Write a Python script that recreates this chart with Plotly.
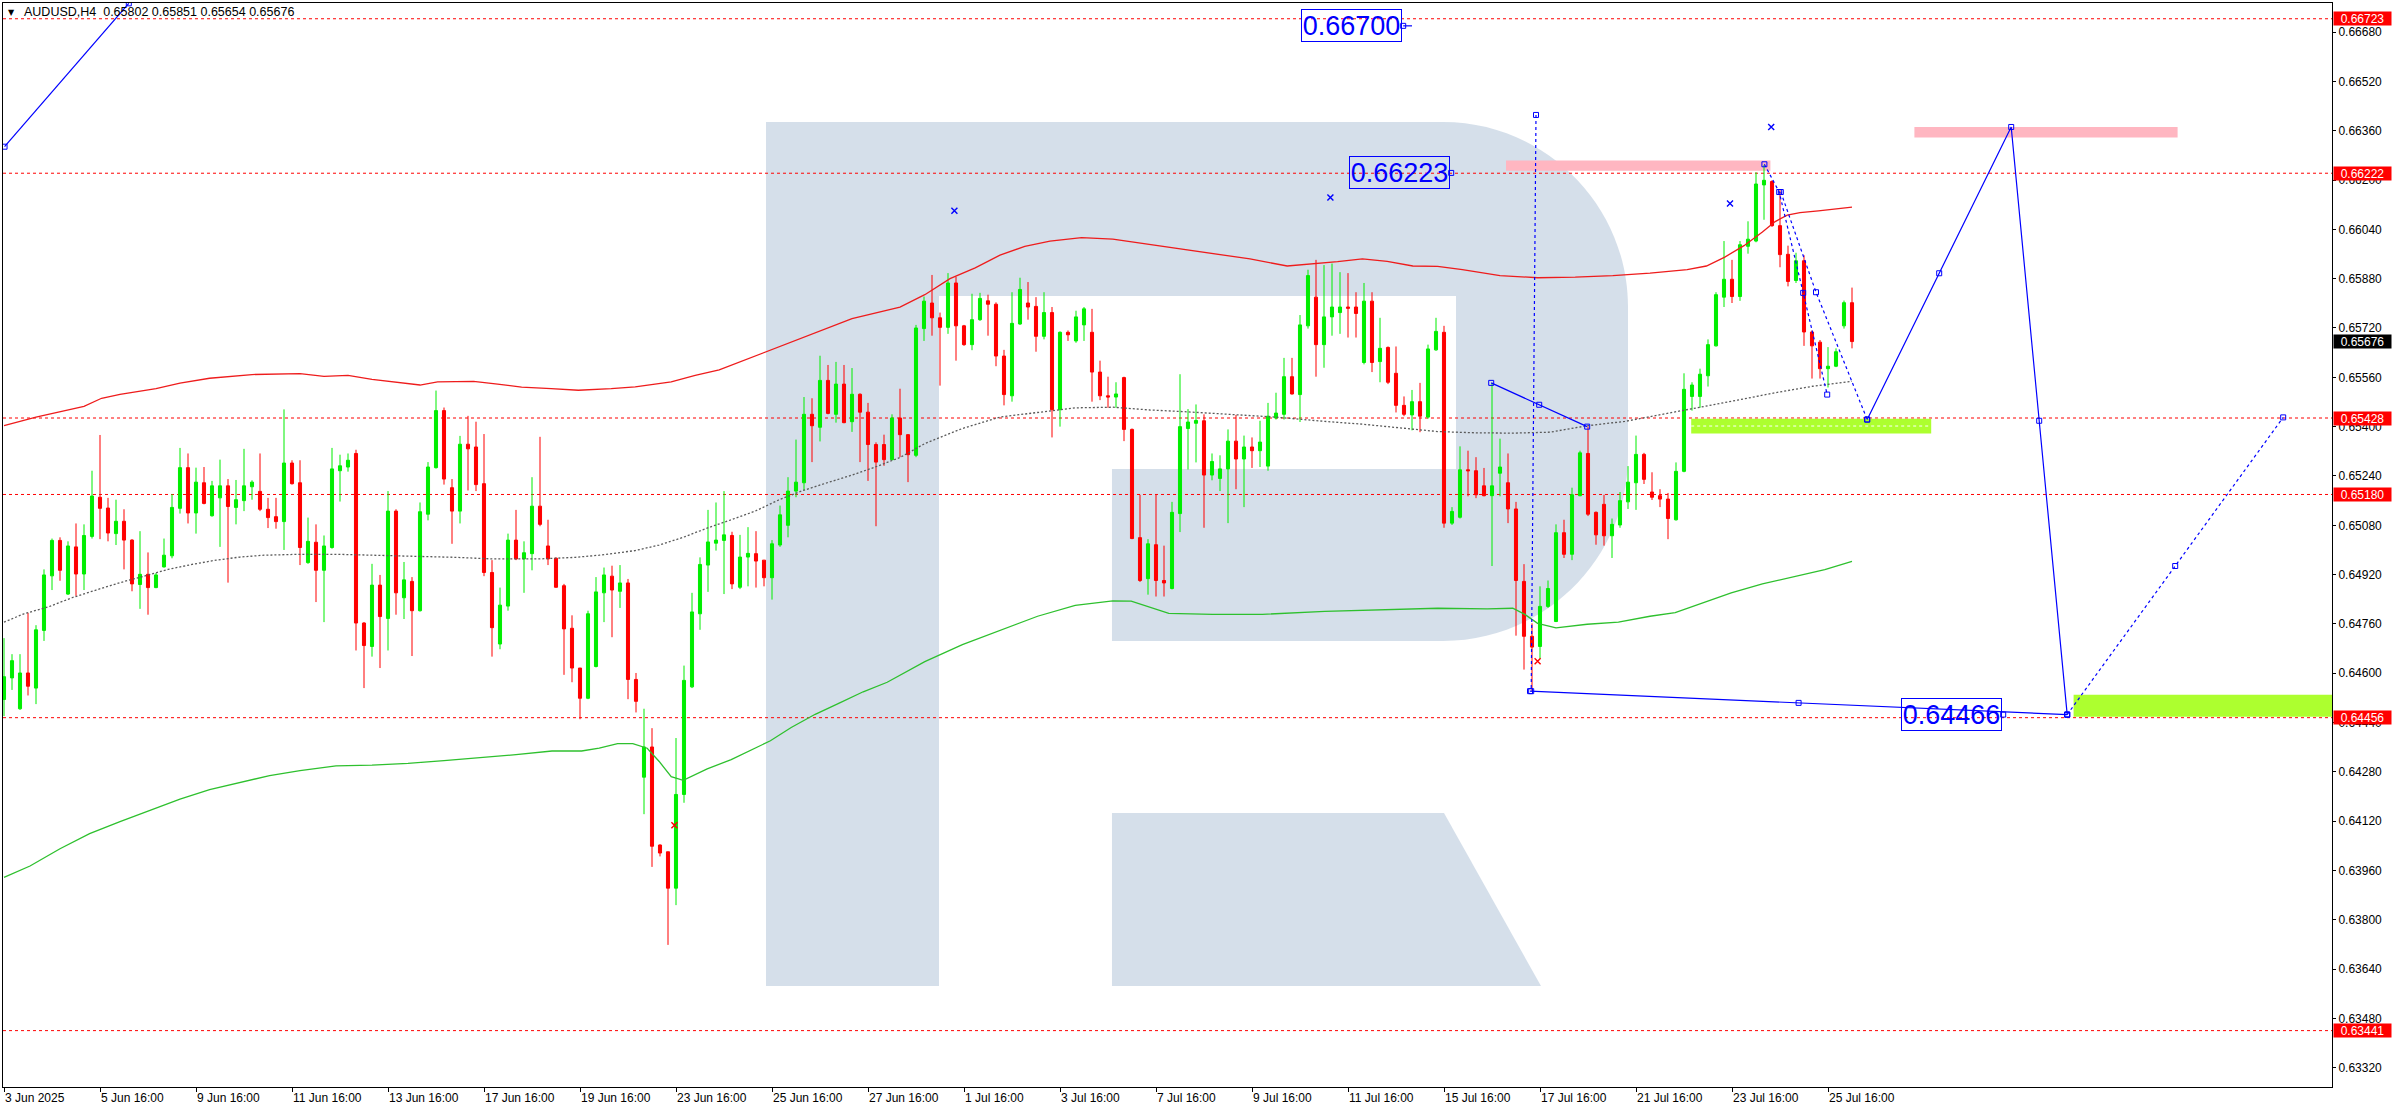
import plotly.graph_objects as go

# ---------------- data ----------------
bar_index = list(range(232))

opens = [0.64515,0.64585,0.64485,0.64601,0.64552,0.64739,0.64916,0.65031,0.64857,0.65010,
0.64922,0.65044,0.65171,0.65136,0.65053,0.65093,0.65032,0.64888,0.64921,0.64878,
0.64945,0.64981,0.65135,0.65267,0.65120,0.65218,0.65111,0.65169,0.65208,0.65138,
0.65160,0.65205,0.65190,0.65132,0.65108,0.65092,0.65282,0.65218,0.64959,0.65025,
0.64934,0.65008,0.65257,0.65269,0.65313,0.64763,0.64687,0.64886,0.64778,0.65126,
0.64845,0.64898,0.64803,0.65116,0.65267,0.65452,0.65202,0.65126,0.65343,0.65334,
0.65215,0.64927,0.64695,0.64818,0.65032,0.64971,0.64988,0.65142,0.65013,0.64973,
0.64884,0.64746,0.64617,0.64519,0.64622,0.64861,0.64915,0.64866,0.64893,0.64580,
0.64263,0.64361,0.64043,0.64021,0.63903,0.64207,0.64556,0.64793,0.64951,0.65022,
0.65031,0.65047,0.64879,0.64977,0.64988,0.64967,0.64910,0.65016,0.65080,0.65191,
0.65218,0.65440,0.65398,0.65550,0.65440,0.65538,0.65416,0.65505,0.65447,0.65342,
0.65342,0.65293,0.65428,0.65374,0.65307,0.65718,0.65801,0.65753,0.65722,0.65866,
0.65727,0.65666,0.65747,0.65808,0.65797,0.65629,0.65500,0.65733,0.65801,0.65790,
0.65693,0.65770,0.65455,0.65706,0.65678,0.65730,0.65706,0.65577,0.65500,0.65496,
0.65559,0.65391,0.65040,0.64907,0.65017,0.64901,0.64875,0.65118,0.65394,0.65411,
0.65419,0.65243,0.65232,0.65263,0.65353,0.65295,0.65334,0.65322,0.65272,0.65428,
0.65440,0.65562,0.65504,0.65727,0.65820,0.65666,0.65756,0.65770,0.65788,0.65788,
0.65608,0.65807,0.65611,0.65657,0.65573,0.65469,0.65438,0.65481,0.65431,0.65649,
0.65706,0.65087,0.65106,0.65260,0.65257,0.65208,0.65176,0.65249,0.65218,0.65133,
0.64898,0.64720,0.64687,0.64817,0.64768,0.65056,0.64986,0.65176,0.65313,0.65122,
0.65148,0.65046,0.65081,0.65156,0.65218,0.65310,0.65188,0.65176,0.65165,0.65098,
0.65255,0.65498,0.65498,0.65565,0.65662,0.65820,0.65878,0.65822,0.65985,0.66002,
0.66184,0.66195,0.66052,0.65959,0.65874,0.65938,0.65707,0.65674,0.65588,0.65596,
0.65727,0.65802]

highs = [0.64714,0.64662,0.64662,0.64796,0.64756,0.64937,0.65037,0.65041,0.65028,0.65086,
0.65083,0.65257,0.65373,0.65169,0.65163,0.65132,0.65035,0.65061,0.64992,0.64925,
0.65037,0.65181,0.65331,0.65313,0.65267,0.65269,0.65224,0.65293,0.65230,0.65227,
0.65328,0.65226,0.65313,0.65169,0.65169,0.65456,0.65291,0.65291,0.65105,0.65083,
0.65047,0.65331,0.65309,0.65313,0.65325,0.64766,0.64955,0.64919,0.65191,0.65132,
0.64961,0.64912,0.65154,0.65285,0.65517,0.65462,0.65230,0.65370,0.65435,0.65416,
0.65376,0.64967,0.64878,0.65053,0.65130,0.65028,0.65236,0.65367,0.65098,0.64976,
0.64890,0.64788,0.64617,0.64803,0.64912,0.64943,0.64949,0.64951,0.64906,0.64601,
0.64485,0.64422,0.64045,0.64021,0.64390,0.64625,0.64861,0.64976,0.65130,0.65154,
0.65191,0.65059,0.65049,0.65074,0.65061,0.64967,0.65032,0.65144,0.65236,0.65358,
0.65496,0.65492,0.65630,0.65600,0.65610,0.65600,0.65590,0.65508,0.65477,0.65349,
0.65374,0.65440,0.65523,0.65376,0.65730,0.65822,0.65892,0.65770,0.65898,0.65886,
0.65730,0.65831,0.65834,0.65828,0.65803,0.65649,0.65836,0.65883,0.65869,0.65820,
0.65836,0.65788,0.65709,0.65712,0.65776,0.65788,0.65782,0.65614,0.65562,0.65544,
0.65562,0.65394,0.65179,0.65035,0.65179,0.65014,0.65156,0.65570,0.65457,0.65472,
0.65440,0.65313,0.65307,0.65391,0.65438,0.65371,0.65365,0.65419,0.65477,0.65510,
0.65623,0.65623,0.65762,0.65909,0.65941,0.65924,0.65929,0.65901,0.65898,0.65836,
0.65866,0.65836,0.65753,0.65660,0.65660,0.65498,0.65519,0.65542,0.65666,0.65753,
0.65727,0.65139,0.65336,0.65322,0.65301,0.65266,0.65542,0.65361,0.65313,0.65156,
0.64954,0.64762,0.64882,0.64901,0.65083,0.65098,0.65202,0.65322,0.65400,0.65125,
0.65179,0.65102,0.65188,0.65272,0.65371,0.65315,0.65252,0.65197,0.65185,0.65284,
0.65573,0.65544,0.65588,0.65683,0.65836,0.66002,0.65941,0.66002,0.66066,0.66225,
0.66249,0.66199,0.66167,0.65987,0.65964,0.65956,0.65712,0.65681,0.65658,0.65654,
0.65809,0.65851]

lows = [0.64461,0.64546,0.64481,0.64528,0.64500,0.64705,0.64870,0.64900,0.64854,0.64851,
0.64870,0.65037,0.65035,0.65028,0.65016,0.64937,0.64866,0.64809,0.64790,0.64876,
0.64943,0.64973,0.65118,0.65086,0.65053,0.65148,0.65108,0.65010,0.64894,0.65083,
0.65126,0.65163,0.65126,0.65071,0.65069,0.65000,0.65212,0.64951,0.64955,0.64831,
0.64766,0.65004,0.65157,0.65254,0.64674,0.64552,0.64654,0.64617,0.64674,0.64790,
0.64776,0.64656,0.64800,0.65096,0.65264,0.65212,0.65020,0.65086,0.65193,0.65191,
0.64915,0.64654,0.64678,0.64803,0.64967,0.64861,0.64934,0.65077,0.64951,0.64878,
0.64595,0.64571,0.64451,0.64516,0.64619,0.64766,0.64717,0.64812,0.64516,0.64473,
0.64143,0.63972,0.64006,0.63719,0.63848,0.64180,0.64552,0.64741,0.64864,0.64998,
0.64857,0.64873,0.64873,0.64882,0.64878,0.64882,0.64839,0.65010,0.65041,0.65171,
0.65193,0.65285,0.65352,0.65440,0.65413,0.65411,0.65383,0.65285,0.65224,0.65077,
0.65273,0.65291,0.65301,0.65220,0.65301,0.65678,0.65695,0.65533,0.65701,0.65614,
0.65662,0.65648,0.65743,0.65695,0.65596,0.65469,0.65481,0.65730,0.65747,0.65643,
0.65683,0.65365,0.65400,0.65678,0.65672,0.65678,0.65481,0.65486,0.65461,0.65461,
0.65353,0.65035,0.64896,0.64855,0.64849,0.64849,0.64872,0.65058,0.65261,0.65284,
0.65072,0.65226,0.65191,0.65087,0.65197,0.65139,0.65266,0.65269,0.65257,0.65423,
0.65423,0.65504,0.65415,0.65718,0.65562,0.65591,0.65695,0.65701,0.65689,0.65689,
0.65602,0.65577,0.65544,0.65538,0.65446,0.65434,0.65388,0.65382,0.65426,0.65646,
0.65072,0.65081,0.65102,0.65174,0.65168,0.65174,0.64948,0.65174,0.65087,0.64722,
0.64612,0.64542,0.64647,0.64812,0.64766,0.64974,0.64967,0.65174,0.65110,0.65017,
0.65014,0.64974,0.65072,0.65133,0.65130,0.65214,0.65162,0.65139,0.65035,0.65095,
0.65252,0.65452,0.65461,0.65530,0.65660,0.65788,0.65801,0.65808,0.65961,0.65998,
0.66071,0.66048,0.65917,0.65855,0.65866,0.65662,0.65556,0.65556,0.65527,0.65593,
0.65718,0.65654]

closes = [0.64589,0.64641,0.64601,0.64558,0.64741,0.64919,0.65031,0.64934,0.65013,0.64922,
0.65047,0.65175,0.65135,0.65055,0.65093,0.65032,0.64890,0.64921,0.64878,0.64919,
0.64983,0.65138,0.65267,0.65120,0.65220,0.65151,0.65208,0.65208,0.65141,0.65163,
0.65208,0.65220,0.65132,0.65105,0.65092,0.65282,0.65215,0.65008,0.65028,0.64934,
0.65013,0.65263,0.65273,0.65291,0.64763,0.64690,0.64886,0.64784,0.65126,0.64861,
0.64903,0.64803,0.65124,0.65269,0.65452,0.65230,0.65126,0.65343,0.65328,0.65212,
0.64927,0.64748,0.64821,0.65032,0.64971,0.64991,0.65142,0.65083,0.64971,0.64879,
0.64744,0.64617,0.64519,0.64793,0.64864,0.64919,0.64870,0.64893,0.64580,0.64509,
0.64361,0.64039,0.64017,0.63903,0.64207,0.64577,0.64799,0.64953,0.65026,0.65032,
0.65049,0.64890,0.64977,0.64989,0.64964,0.64910,0.65020,0.65114,0.65191,0.65220,
0.65440,0.65403,0.65550,0.65443,0.65538,0.65413,0.65505,0.65447,0.65342,0.65285,
0.65293,0.65428,0.65374,0.65309,0.65720,0.65807,0.65753,0.65722,0.65866,0.65727,
0.65666,0.65747,0.65816,0.65797,0.65629,0.65504,0.65735,0.65845,0.65788,0.65693,
0.65770,0.65455,0.65706,0.65698,0.65756,0.65782,0.65577,0.65500,0.65496,0.65506,
0.65391,0.65037,0.64901,0.65020,0.64901,0.64893,0.65122,0.65400,0.65415,0.65420,
0.65243,0.65287,0.65263,0.65353,0.65295,0.65334,0.65322,0.65350,0.65434,0.65444,
0.65562,0.65506,0.65730,0.65890,0.65666,0.65756,0.65788,0.65788,0.65784,0.65767,
0.65807,0.65608,0.65654,0.65544,0.65469,0.65440,0.65481,0.65434,0.65652,0.65709,
0.65087,0.65125,0.65260,0.65257,0.65179,0.65176,0.65208,0.65269,0.65133,0.64901,
0.64720,0.64685,0.64817,0.64875,0.65056,0.64986,0.65179,0.65315,0.65116,0.65049,
0.65046,0.65083,0.65160,0.65220,0.65310,0.65229,0.65171,0.65165,0.65102,0.65255,
0.65521,0.65535,0.65570,0.65666,0.65828,0.65878,0.65822,0.65990,0.66008,0.66187,
0.66199,0.66052,0.65958,0.65871,0.65938,0.65707,0.65662,0.65588,0.65596,0.65643,
0.65802,0.65676]

# upper (red) band
upper_bar = [0,4.0,10.0,12.2,14.5,19.0,22.0,25.7,31.0,37.0,40.0,43.0,46.0,49.0,52.0,54.2,58.7,61.7,64.7,68.4,
             71.8,75.9,78.9,83.4,86.4,89.4,99.0,106.0,112.0,115.1,118.25,121.4,124.5,127.6,130.75,134.7,138.6,
             141.7,146.4,151.1,155.75,160.4,163.6,166.7,169.8,172.9,176.1,179.2,182.3,187.0,191.7,196.4,201.1,
             205.75,210.4,212.8,215.1,217.5,219.8,221.4,222.9,224.5,226.8,229.2,231.0]
upper_val = [0.65403,0.65431,0.65466,0.65492,0.65505,0.65523,0.65541,0.65557,0.65569,0.65572,0.65563,0.65566,
             0.65553,0.65544,0.65535,0.65545,0.65547,0.65538,0.65528,0.65523,0.65518,0.65523,0.65529,0.65545,
             0.65566,0.65584,0.65680,0.65750,0.65788,0.65828,0.65880,0.65915,0.65956,0.65985,0.66002,0.66013,
             0.66008,0.65996,0.65979,0.65961,0.65944,0.65921,0.65927,0.65935,0.65944,0.65936,0.65921,0.65920,
             0.65909,0.65890,0.65883,0.65885,0.65890,0.65898,0.65909,0.65921,0.65950,0.65987,0.66031,0.66065,
             0.66086,0.66094,0.66100,0.66106,0.66112]

# middle (grey dotted) line
middle_bar = [0,2.5,5.5,8.5,11.5,14.5,17.5,20.5,23.5,26.5,29.5,32.5,37,41.5,46,52,56.5,61,67,71.4,74.4,78.9,
              81.9,84.9,87.9,90.9,93.9,96.9,99.9,102.9,105.9,108.9,112,115.1,119.8,124.5,129.2,133.9,138.6,
              143.25,147.9,152.6,158.9,165.1,169.8,174.5,179.2,183.9,188.6,193.25,197.9,202.6,207.3,212,216.7,
              221.4,226.1,231]
middle_val = [0.64766,0.64793,0.64815,0.64845,0.64870,0.64894,0.64915,0.64937,0.64953,0.64967,0.64977,0.64983,
              0.64986,0.64986,0.64983,0.64980,0.64976,0.64971,0.64971,0.64976,0.64983,0.64998,0.65016,0.65041,
              0.65071,0.65098,0.65126,0.65163,0.65193,0.65218,0.65242,0.65269,0.65300,0.65345,0.65394,0.65431,
              0.65446,0.65461,0.65463,0.65454,0.65448,0.65440,0.65431,0.65417,0.65408,0.65396,0.65384,0.65380,
              0.65379,0.65382,0.65403,0.65417,0.65440,0.65461,0.65486,0.65510,0.65531,0.65547]

# lower (green) band
lower_bar = [0,3.25,7,10.7,14.5,18.2,22,25.7,29.5,33.2,37,41.5,46,50.5,55,59.5,64,68.5,72.2,74.4,76.7,78.6,
             80.4,81.9,83.4,84.9,87.9,90.9,93.9,95.8,98.4,101.4,104.4,107.4,110.4,113.4,115.1,119.8,124.5,
             129.2,133.9,138.6,140.9,143.25,145.6,151.1,157.3,165.1,171.4,179.2,185.4,188.6,190.1,191.7,194,
             197.9,201.8,205.75,208.9,212,215.9,219.8,224.5,227.6,231]
lower_val = [0.63938,0.63975,0.64031,0.64080,0.64119,0.64155,0.64192,0.64223,0.64247,0.64268,0.64284,0.64300,
             0.64302,0.64308,0.64317,0.64326,0.64336,0.64348,0.64348,0.64357,0.64372,0.64372,0.64357,0.64314,
             0.64265,0.64253,0.64290,0.64320,0.64357,0.64381,0.64424,0.64467,0.64503,0.64540,0.64571,0.64613,
             0.64638,0.64693,0.64739,0.64785,0.64820,0.64835,0.64834,0.64814,0.64794,0.64791,0.64791,0.64801,
             0.64806,0.64811,0.64809,0.64811,0.64791,0.64762,0.64747,0.64759,0.64766,0.64785,0.64797,0.64826,
             0.64861,0.64890,0.64917,0.64936,0.64963]

# x-axis labels
tick_bars = [0,12,24,36,48,60,72,84,96,108,120,132,144,156,168,180,192,204,216,228]
tick_labels = ["3 Jun 2025","5 Jun 16:00","9 Jun 16:00","11 Jun 16:00","13 Jun 16:00","17 Jun 16:00",
               "19 Jun 16:00","23 Jun 16:00","25 Jun 16:00","27 Jun 16:00","1 Jul 16:00","3 Jul 16:00",
               "7 Jul 16:00","9 Jul 16:00","11 Jul 16:00","15 Jul 16:00","17 Jul 16:00","21 Jul 16:00",
               "23 Jul 16:00","25 Jul 16:00"]
price_ticks = [0.63320,0.63480,0.63640,0.63800,0.63960,0.64120,0.64280,0.64440,0.64600,0.64760,0.64920,
               0.65080,0.65240,0.65400,0.65560,0.65720,0.65880,0.66040,0.66200,0.66360,0.66520,0.66680]

# horizontal levels
level_prices = [0.66723, 0.66222, 0.65428, 0.65180, 0.64456, 0.63441]
current_price = 0.65676

# analysis drawings (bar index, price)
forecast_bar = [232.9, 250.9, 257.9]
forecast_price = [0.65423, 0.66372, 0.64466]
forecast_ext_bar = [257.9, 284.9]
forecast_ext_price = [0.64466, 0.65430]
floor_bar = [190.75, 257.9]
floor_price = [0.64542, 0.64466]
vertical_bar = [191.5, 190.9]
vertical_price = [0.66411, 0.64542]
swing_bar = [185.9, 197.9]
swing_price = [0.65542, 0.65400]
drop1_bar = [220.05, 221.9, 224.9, 227.9]
drop1_price = [0.66251, 0.66161, 0.65834, 0.65504]
drop2_bar = [222.1, 226.5, 232.9]
drop2_price = [0.66161, 0.65836, 0.65423]
old_bar = [0.07, 15.6]
old_price = [0.66308, 0.66773]
label_bar = [174.9, 180.9, 249.9]
label_price = [0.66700, 0.66223, 0.64466]
blue_cross_bar = [118.8, 165.8, 215.75, 220.9]
blue_cross_price = [0.66100, 0.66143, 0.66124, 0.66372]
red_cross_bar = [83.8, 191.7]
red_cross_price = [0.64107, 0.64639]
pink_zones = [(187.75, 220.8, 0.66230, 0.66263), (238.8, 271.7, 0.66338, 0.66372)]
lime_zones = [(210.9, 240.9, 0.65378, 0.65426), (258.7, 292.0, 0.64459, 0.64530)]
lime_mid_price = 0.65402

symbol_name = "AUDUSD,H4"

# ---------------- layout constants ----------------
W, H = 2396, 1110
ML, MR, MT, MB = 3, 64, 3, 23
PW, PH = W - ML - MR, H - MT - MB
X_RANGE = [-0.125, 291.0]
Y_RANGE = [0.632581, 0.667741]
FONT = "Liberation Sans"
GREEN = "#00ee00"
RED = "#ff0000"
BLUE = "#0000ff"

fig = go.Figure()

fig.add_trace(go.Candlestick(
    x=bar_index, open=opens, high=highs, low=lows, close=closes,
    increasing=dict(line=dict(color=GREEN, width=1), fillcolor=GREEN),
    decreasing=dict(line=dict(color=RED, width=1), fillcolor=RED),
    whiskerwidth=0, hoverinfo="skip", showlegend=False))

fig.add_trace(go.Scatter(x=upper_bar, y=upper_val, mode="lines",
                         line=dict(color="#ee1c1c", width=1.3), hoverinfo="skip", showlegend=False))
fig.add_trace(go.Scatter(x=middle_bar, y=middle_val, mode="lines",
                         line=dict(color="#5a5a5a", width=1.3, dash="2px,2px"), hoverinfo="skip", showlegend=False))
fig.add_trace(go.Scatter(x=lower_bar, y=lower_val, mode="lines",
                         line=dict(color="#2ec02e", width=1.3), hoverinfo="skip", showlegend=False))


def add_path(xs, ys, dash=None, mids=False, width=1.2):
    fig.add_trace(go.Scatter(x=xs, y=ys, mode="lines",
                             line=dict(color=BLUE, width=width, dash=dash),
                             hoverinfo="skip", showlegend=False))
    mx, my = list(xs), list(ys)
    if mids:
        for k in range(len(xs) - 1):
            mx.append((xs[k] + xs[k + 1]) / 2)
            my.append((ys[k] + ys[k + 1]) / 2)
    fig.add_trace(go.Scatter(x=mx, y=my, mode="markers",
                             marker=dict(symbol="square-open", size=5, color=BLUE, line=dict(width=1, color=BLUE)),
                             hoverinfo="skip", showlegend=False))


add_path(old_bar, old_price)
add_path(forecast_bar, forecast_price, mids=True)
add_path(forecast_ext_bar, forecast_ext_price, dash="3px,3px", mids=True)
add_path(floor_bar, floor_price, mids=True)
add_path(vertical_bar, vertical_price, dash="3px,3px")
add_path(swing_bar, swing_price, mids=True)
add_path(drop1_bar, drop1_price, dash="3px,3px")
add_path(drop2_bar, drop2_price, dash="3px,3px")

# label anchors + short tick of the top label
fig.add_trace(go.Scatter(x=label_bar, y=label_price, mode="markers",
                         marker=dict(symbol="square-open", size=5, color=BLUE, line=dict(width=1, color=BLUE)),
                         hoverinfo="skip", showlegend=False))
fig.add_trace(go.Scatter(x=[label_bar[0], label_bar[0] + 1.1], y=[label_price[0], label_price[0]], mode="lines",
                         line=dict(color=BLUE, width=1.2), hoverinfo="skip", showlegend=False))

fig.add_trace(go.Scatter(x=blue_cross_bar, y=blue_cross_price, mode="markers",
                         marker=dict(symbol="x-thin-open", size=6, color=BLUE, line=dict(width=1.4, color=BLUE)),
                         hoverinfo="skip", showlegend=False))
fig.add_trace(go.Scatter(x=red_cross_bar, y=red_cross_price, mode="markers",
                         marker=dict(symbol="x-thin-open", size=6, color=RED, line=dict(width=1.4, color=RED)),
                         hoverinfo="skip", showlegend=False))


# ---------------- shapes ----------------
def to_paper(x, y):
    return (x - ML) / PW, (H - MB - y) / PH


def path_from(points):
    parts = []
    for k, p in enumerate(points):
        if p[0] == "C":
            c = [to_paper(*q) for q in p[1:]]
            parts.append("C " + " ".join(f"{a:.5f},{b:.5f}" for a, b in c))
        else:
            a, b = to_paper(*p)
            parts.append(("M " if k == 0 else "L ") + f"{a:.5f},{b:.5f}")
    return " ".join(parts) + " Z"


logo_body = [(766, 122), (1443, 122), ("C", (1545, 122), (1628, 205), (1628, 307)), (1628, 456),
             ("C", (1628, 558), (1545, 641), (1443, 641)), (1112, 641), (1112, 469), (1456, 469),
             (1456, 296), (939, 296), (939, 986), (766, 986)]
logo_leg = [(1112, 813), (1444, 813), (1541, 986), (1112, 986)]

shapes = []
for x0, x1, y0, y1 in pink_zones:
    shapes.append(dict(type="rect", xref="x", yref="y", x0=x0, x1=x1, y0=y0, y1=y1,
                       fillcolor="#ffb6c1", line=dict(width=0), layer="below"))
for pts in (logo_body, logo_leg):
    shapes.append(dict(type="path", xref="paper", yref="paper", path=path_from(pts),
                       fillcolor="rgba(171,191,213,0.5)", line=dict(width=0), layer="below"))
for x0, x1, y0, y1 in lime_zones:
    shapes.append(dict(type="rect", xref="x", yref="y", x0=x0, x1=x1, y0=y0, y1=y1,
                       fillcolor="#adff2f", line=dict(width=0), layer="below"))
shapes.append(dict(type="line", xref="x", yref="y", x0=lime_zones[0][0], x1=lime_zones[0][1],
                   y0=lime_mid_price, y1=lime_mid_price, line=dict(color="white", width=1, dash="3px,3px"),
                   layer="below"))
for lp in level_prices:
    shapes.append(dict(type="line", xref="paper", yref="y", x0=0, x1=1, y0=lp, y1=lp,
                       line=dict(color=RED, width=1, dash="3px,3px"), layer="below"))

# ---------------- annotations ----------------
ann = []
for lp in level_prices:
    ann.append(dict(xref="paper", yref="y", x=1, y=lp, xanchor="left", yanchor="middle", xshift=1,
                    text=f"{lp:.5f}", showarrow=False, bgcolor=RED, width=57, height=13, borderpad=0,
                    font=dict(family=FONT, size=12, color="white")))
ann.append(dict(xref="paper", yref="y", x=1, y=current_price, xanchor="left", yanchor="middle", xshift=1,
                text=f"{current_price:.5f}", showarrow=False, bgcolor="black", width=57, height=13, borderpad=0,
                font=dict(family=FONT, size=12, color="white")))
for lb, lpr in zip(label_bar, label_price):
    ann.append(dict(xref="x", yref="y", x=lb - 0.2, y=lpr, xanchor="right", yanchor="middle",
                    text=f"{lpr:.5f}", showarrow=False, bordercolor=BLUE, borderwidth=1, borderpad=0,
                    width=99, height=31, bgcolor="rgba(0,0,0,0)",
                    font=dict(family=FONT, size=27, color=BLUE)))
header = (f"{symbol_name}\u00a0 {opens[-1]:.5f} {highs[-1]:.5f} {lows[-1]:.5f} {closes[-1]:.5f}")
ann.append(dict(xref="paper", yref="paper", x=0, y=1, xanchor="left", yanchor="middle", xshift=18.5, yshift=-9.3,
                text=header, showarrow=False, font=dict(family=FONT, size=12.5, color="black")))
ann.append(dict(xref="paper", yref="paper", x=0, y=1, xanchor="center", yanchor="middle", xshift=8, yshift=-9.5,
                text="\u25bc", showarrow=False, font=dict(family="DejaVu Sans", size=8, color="black")))

fig.update_layout(
    width=W, height=H,
    margin=dict(l=ML, r=MR, t=MT, b=MB, autoexpand=False),
    paper_bgcolor="white", plot_bgcolor="white",
    boxgap=0.45,
    showlegend=False,
    shapes=shapes, annotations=ann,
    font=dict(family=FONT, size=12, color="black"),
    xaxis=dict(range=X_RANGE, showgrid=False, zeroline=False, showline=True, linecolor="black", linewidth=1,
               mirror=True, ticks="outside", ticklen=4, tickcolor="black", tickvals=tick_bars,
               ticktext=tick_labels, ticklabelposition="outside right",
               tickfont=dict(family=FONT, size=12, color="black"), rangeslider=dict(visible=False),
               fixedrange=True),
    yaxis=dict(range=Y_RANGE, side="right", showgrid=False, zeroline=False, showline=True, linecolor="black",
               linewidth=1, mirror=True, ticks="outside", ticklen=3, tickcolor="black", tickvals=price_ticks,
               ticktext=[f"{v:.5f}" for v in price_ticks], tickfont=dict(family=FONT, size=12, color="black"),
               fixedrange=True),
)

fig.write_html("out.html", config={"displayModeBar": False},
               post_script="document.body.style.margin='0';document.body.style.overflow='hidden';")
